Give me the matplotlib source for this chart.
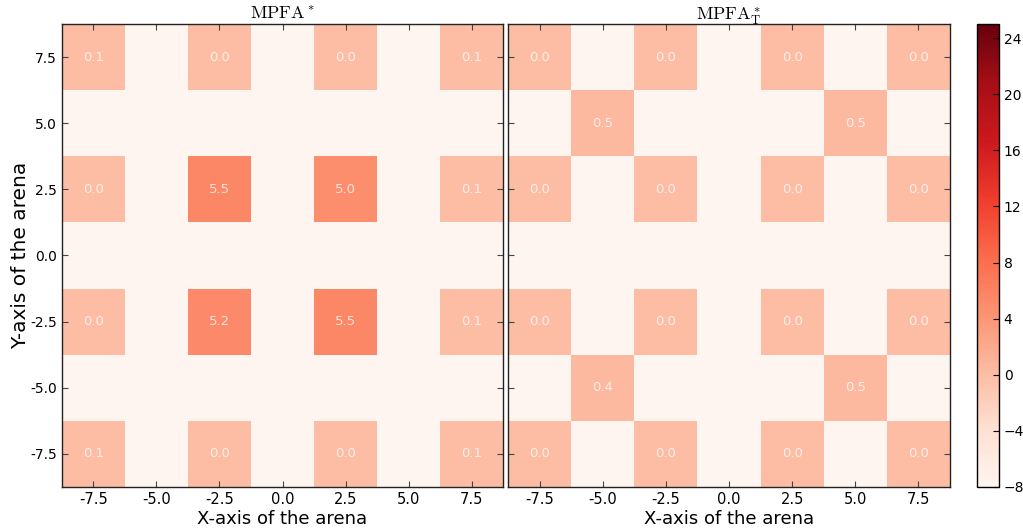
import numpy as np
import matplotlib
matplotlib.use("Agg")
import matplotlib.pyplot as plt

plt.rcParams['mathtext.fontset'] = 'cm'

# grid centres of the arena
xs = [-7.5, -5.0, -2.5, 0.0, 2.5, 5.0, 7.5]
ys = [7.5, 5.0, 2.5, 0.0, -2.5, -5.0, -7.5]
nan = np.nan

# rows from top (y=7.5) to bottom (y=-7.5)
mpfa = [
    [0.1, nan, 0.0, nan, 0.0, nan, 0.1],
    [nan, nan, nan, nan, nan, nan, nan],
    [0.0, nan, 5.5, nan, 5.0, nan, 0.1],
    [nan, nan, nan, nan, nan, nan, nan],
    [0.0, nan, 5.2, nan, 5.5, nan, 0.1],
    [nan, nan, nan, nan, nan, nan, nan],
    [0.1, nan, 0.0, nan, 0.0, nan, 0.1],
]
mpfa_t = [
    [0.0, nan, 0.0, nan, 0.0, nan, 0.0],
    [nan, 0.5, nan, nan, nan, 0.5, nan],
    [0.0, nan, 0.0, nan, 0.0, nan, 0.0],
    [nan, nan, nan, nan, nan, nan, nan],
    [0.0, nan, 0.0, nan, 0.0, nan, 0.0],
    [nan, 0.4, nan, nan, nan, 0.5, nan],
    [0.0, nan, 0.0, nan, 0.0, nan, 0.0],
]
titles = [r'$\mathrm{MPFA}^*$', r'$\mathrm{MPFA}^*_\mathrm{T}$']
cbar_ticks = [-8, -4, 0, 4, 8, 12, 16, 20, 24]
vmin, vmax = -8, 25

cmap = plt.get_cmap('Reds').copy()
cmap.set_bad(cmap(0.0))

fig = plt.figure(figsize=(10.23, 5.31), dpi=100)
ax1 = fig.add_axes([0.0606, 0.0829, 0.4311, 0.8719])
ax2 = fig.add_axes([0.4966, 0.0829, 0.4320, 0.8719])
cax = fig.add_axes([0.9555, 0.0829, 0.0215, 0.8719])

step = 2.5
edges_x = np.arange(-8.75, 8.76, step)
edges_y = np.arange(-8.75, 8.76, step)

for ax, data, title in [(ax1, mpfa, titles[0]), (ax2, mpfa_t, titles[1])]:
    arr = np.array(data, dtype=float)[::-1]  # bottom row first
    mesh = ax.pcolormesh(edges_x, edges_y, np.ma.masked_invalid(arr),
                         cmap=cmap, vmin=vmin, vmax=vmax)
    for i, y in enumerate(ys):
        for j, x in enumerate(xs):
            v = data[i][j]
            if not np.isnan(v):
                ax.text(x, y, '%.1f' % v, ha='center', va='center',
                        color='white', alpha=0.75, fontsize=9.5)
    ax.set_xlim(-8.75, 8.75)
    ax.set_ylim(-8.75, 8.75)
    ax.set_xticks(xs)
    ax.set_xticklabels([str(x) for x in xs], fontsize=10.5)
    ax.set_yticks(ys)
    ax.tick_params(direction='in', top=True, right=True, length=4,
                   color='#444444')
    ax.set_xlabel('X-axis of the arena', fontsize=13, labelpad=2)
    ax.set_title(title, fontsize=13, pad=3)
    for s in ax.spines.values():
        s.set_linewidth(1.0)
        s.set_color('#222222')

ax1.set_yticklabels([str(y) for y in ys], fontsize=10)
ax2.set_yticklabels([])
ax1.set_ylabel('Y-axis of the arena', fontsize=14.5)
ax1.yaxis.set_label_coords(-0.073, 0.5)

cb = fig.colorbar(mesh, cax=cax, ticks=cbar_ticks)
cb.ax.tick_params(labelsize=10, direction='in', length=4, pad=3)
cb.outline.set_linewidth(1.0)

fig.savefig('out.png', dpi=100)
